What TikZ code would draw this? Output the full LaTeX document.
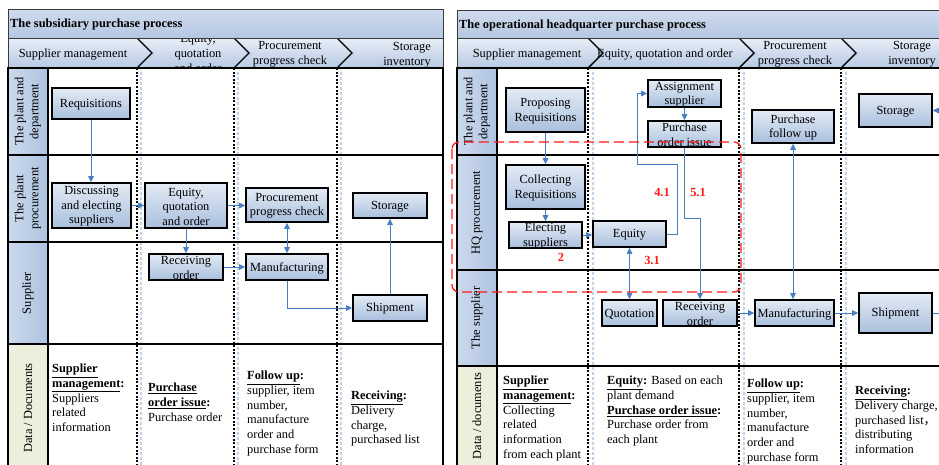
\documentclass[tikz,border=0pt]{standalone}
\usepackage{fontspec}
\setmainfont{Liberation Serif}
\newfontfamily\cjkfont{Noto Sans CJK SC}
\usetikzlibrary{arrows.meta}

\definecolor{boxtop}{HTML}{E3EBF5}
\definecolor{boxbot}{HTML}{A9BFDD}
\definecolor{flowblue}{HTML}{4A7EC2}
\definecolor{titletop}{HTML}{D0DCEE}
\definecolor{titlebot}{HTML}{B4C6E2}
\definecolor{headtop}{HTML}{E8EEF7}
\definecolor{headbot}{HTML}{B6C9E3}
\definecolor{labL}{HTML}{CCD9EC}
\definecolor{labR}{HTML}{AEC3E0}
\definecolor{docbg}{HTML}{EEEEDD}
\definecolor{shadeblue}{HTML}{C3D3E9}
\definecolor{tagred}{HTML}{FF1A1A}
\definecolor{edgegray}{HTML}{3A3A3A}

\newcommand\diagfont{\fontsize{12.4}{15}\selectfont}
\newcommand\hd[1]{\textbf{\underline{#1}}}

% process box: name, centre x, centre y, width, height, text
\newcommand\flowbox[6]{%
  \node[procbox, minimum width=#4pt, minimum height=#5pt] (#1) at (#2,#3) {};
  \node[boxtext] (#1-t) at (#1.center) {#6};
}

\begin{document}
\begin{tikzpicture}[x=1pt, y=-1pt, font=\diagfont,
  procbox/.style={draw=black, line width=1.6pt, top color=boxtop, bottom color=boxbot, inner sep=0pt},
  boxtext/.style={align=center, inner sep=0pt, yshift=-1pt, font=\fontsize{12.4}{14.5}\selectfont},
  flow/.style={draw=flowblue, line width=1pt, -{Triangle[length=6pt,width=5.5pt]}},
  flowboth/.style={draw=flowblue, line width=1pt, {Triangle[length=6pt,width=5.5pt]}-{Triangle[length=6pt,width=5.5pt]}},
  lanerule/.style={line width=1.8pt, line cap=rect},
  phase/.style={line width=1.8pt, dash pattern=on 2pt off 1.6pt},
  phaseshade/.style={draw=shadeblue, line width=1.4pt, dash pattern=on 3pt off 2pt},
  chev/.style={line width=1.4pt, miter limit=10},
  chevshade/.style={draw=shadeblue, line width=2pt},
  edge/.style={draw=edgegray, line width=0.8pt},
  lanelabel/.style={rotate=90, align=center, inner sep=0pt},
  doc/.style={anchor=north west, align=left, inner sep=0pt, font=\fontsize{12.4}{14.7}\selectfont},
  tag/.style={text=tagred, inner sep=0pt, font=\diagfont\bfseries},
  headtext/.style={inner sep=0pt, align=center}
]
\path[use as bounding box] (0,0) rectangle (939,464);
\fill[white] (0,0) rectangle (939,464);
\clip (0,0) rectangle (939,464);

% ================= subsidiary process (left panel) =================
\shade[top color=headtop, bottom color=headbot] (8,38) rectangle (443,68);
\foreach \x in {137,234,337}{
  \draw[chevshade] (\x+4,42) -- (\x+17,54) -- (\x+5,67);
  \draw[chev] (\x,38) -- (\x+15,53) -- (\x,68);
}
\node[headtext] (lH1) at (73,55) {Supplier management};
\node[headtext] (lH2) at (198,53) {Equity,\\quotation\\and order};
\node[headtext] (lH3) at (290,54) {Procurement\\progress check};
\node[headtext, align=right, anchor=east] (lH4) at (431,55) {Storage\\inventory};

\shade[top color=titletop, bottom color=titlebot] (8,9) rectangle (443,38);
\node[anchor=west, inner sep=0pt, font=\diagfont\bfseries] (lTitle) at (10,25) {The subsidiary purchase process};
\draw[edge] (8,68) -- (8,9) -- (443,9) -- (443,68) (8,38) -- (443,38);

\fill[white] (8,68) rectangle (443,470);
\shade[left color=labL, right color=labR] (8,68) rectangle (48,155);
\shade[left color=labL, right color=labR] (8,155) rectangle (48,242);
\shade[left color=labL, right color=labR] (8,242) rectangle (48,344);
\fill[docbg] (8,344) rectangle (48,470);
\foreach \x in {137,234,337}{
  \draw[phaseshade] (\x+4,72) -- (\x+4,470);
  \draw[phase] (\x,68) -- (\x,470);
}
\draw[lanerule] (8,68) -- (443,68) (8,155) -- (443,155) (8,242) -- (443,242)
  (8,344) -- (443,344) (48,68) -- (48,470) (8,68) -- (8,470) (443,68) -- (443,470);

\node[lanelabel] (lL1) at (28,111.5) {The plant and\\department};
\node[lanelabel] (lL2) at (28,198.5) {The plant\\procurement};
\node[lanelabel] (lL3) at (28,293) {Supplier};
\node[lanelabel] (lL4) at (28,408) {Data / Documents};

\flowbox{lReq}{91}{103.5}{78}{31}{Requisitions}
\flowbox{lDisc}{91.5}{205.5}{79}{45}{Discussing\\and electing\\suppliers}
\flowbox{lEq}{186}{205.5}{82}{45}{Equity,\\quotation\\and order}
\flowbox{lProc}{287}{205}{82}{34}{Procurement\\progress check}
\flowbox{lStor}{390}{205.5}{74}{25}{Storage}
\flowbox{lRecv}{186}{267}{74}{26}{Receiving\\order}
\flowbox{lManu}{287}{267}{82}{26}{Manufacturing}
\flowbox{lShip}{390}{308}{74}{26}{Shipment}

\draw[flow] (lReq.south) -- (lReq.south |- lDisc.north);
\draw[flow] (lDisc.east) -- (lEq.west);
\draw[flow] (lEq.east) -- (lEq.east -| lProc.west);
\draw[flow] (lEq.south) -- (lRecv.north);
\draw[flow] (lRecv.east) -- (lManu.west);
\draw[flowboth] (lProc.south) -- (lManu.north);
\draw[flow] (lManu.south) |- (lShip.west);
\draw[flow] (lShip.north) -- (lStor.south);

\node[doc] (lD1) at (52,364) {\hd{Supplier}\\\hd{management}\textbf{:}\\Suppliers\\related\\information};
\node[doc] (lD2) at (148,383) {\hd{Purchase}\\\hd{order issue}\textbf{:}\\Purchase order};
\node[doc] (lD3) at (247,371) {\hd{Follow up}\textbf{:}\\supplier, item\\number,\\manufacture\\order and\\purchase form};
\node[doc] (lD4) at (351,391) {\hd{Receiving}\textbf{:}\\Delivery\\charge,\\purchased list};

% ================= headquarter process (right panel) =================
\shade[top color=headtop, bottom color=headbot] (457,38) rectangle (960,68);
\foreach \x in {588,739,841}{
  \draw[chevshade] (\x+4,42) -- (\x+17,54) -- (\x+5,67);
  \draw[chev] (\x,38) -- (\x+15,53) -- (\x,68);
}
\node[headtext] (rH1) at (527,55) {Supplier management};
\node[headtext] (rH2) at (665,55) {Equity, quotation and order};
\node[headtext] (rH3) at (795,54) {Procurement\\progress check};
\node[headtext] (rH4) at (912,54) {Storage\\inventory};

\shade[top color=titletop, bottom color=titlebot] (457,10) rectangle (960,38);
\node[anchor=west, inner sep=0pt, font=\diagfont\bfseries] (rTitle) at (459,26) {The operational headquarter purchase process};
\draw[edge] (457,68) -- (457,10) -- (960,10) (457,38) -- (960,38);

\fill[white] (457,68) rectangle (960,470);
\shade[left color=labL, right color=labR] (457,68) rectangle (497,155);
\shade[left color=labL, right color=labR] (457,155) rectangle (497,270);
\shade[left color=labL, right color=labR] (457,270) rectangle (497,366);
\fill[docbg] (457,366) rectangle (497,470);
\foreach \x in {588,739,841}{
  \draw[phaseshade] (\x+5,72) -- (\x+5,470);
  \draw[phase] (\x,68) -- (\x,470);
}
\draw[lanerule] (457,68) -- (960,68) (457,155) -- (960,155) (457,270) -- (960,270)
  (457,366) -- (960,366) (497,68) -- (497,470) (457,68) -- (457,470);

\node[lanelabel] (rL1) at (477,111.5) {The plant and\\department};
\node[lanelabel] (rL2) at (477,212.5) {HQ procurement};
\node[lanelabel] (rL3) at (477,318) {The supplier};
\node[lanelabel] (rL4) at (477,416) {Data / documents};

\flowbox{rProp}{545.5}{110}{79}{44}{Proposing\\Requisitions}
\flowbox{rAssign}{684.5}{93.5}{73}{27}{Assignment\\supplier}
\flowbox{rPOI}{684.5}{134}{73}{26}{Purchase\\order issue}
\flowbox{rFollow}{793}{126.5}{82}{33}{Purchase\\follow up}
\flowbox{rStor}{895.5}{110.5}{73}{33}{Storage}
\flowbox{rColl}{545.5}{187}{79}{44}{Collecting\\Requisitions}
\flowbox{rElect}{545.5}{235}{73}{26}{Electing\\suppliers}
\flowbox{rEq}{629.5}{234}{73}{26}{Equity}
\flowbox{rQuot}{629.5}{313}{55}{26}{Quotation}
\flowbox{rRecv}{700}{313}{74}{26}{Receiving\\order}
\flowbox{rManu}{794.5}{313}{79}{26}{Manufacturing}
\flowbox{rShip}{895.5}{313}{73}{40}{Shipment}

\coordinate (loopA) at (677,164);
\coordinate (loopB) at (637,164);
\coordinate (inR) at (950,110.5);
\coordinate (outR) at (950,313);

\draw[flow] (rProp.south) -- (rColl.north);
\draw[flow] (rColl.south) -- (rElect.north);
\draw[flow] (rElect.east) -- (rElect.east -| rEq.west);
\draw[flow] (rEq.east) -| (loopA) -- (loopB) |- (rAssign.west);
\draw[flow] (rAssign.south) -- (rPOI.north);
\draw[flow] (rPOI.south) -- ++(0,71) -| (rRecv.north);
\draw[flowboth] (rEq.south) -- (rQuot.north);
\draw[flow] (rRecv.east) -- (rManu.west);
\draw[flow] (rManu.east) -- (rShip.west);
\draw[draw=flowblue, line width=1pt] (rShip.east) -- (outR);
\draw[flowboth] (rFollow.south) -- (rFollow.south |- rManu.north);
\draw[flow] (inR) -- (rStor.east);

\node[tag] (t41) at (662,192) {4.1};
\node[tag] (t51) at (698,192) {5.1};
\node[tag] (t2) at (561,257) {2};
\node[tag] (t31) at (652,260) {3.1};

\draw[tagred, line width=1.3pt, dash pattern=on 10pt off 5pt, rounded corners=7pt] (452,142) rectangle (741,292);

\node[doc] (rD1) at (503,376) {\hd{Supplier}\\\hd{management}\textbf{:}\\Collecting\\related\\information\\from each plant};
\node[doc] (rD2) at (607,376) {\hd{Equity}\textbf{:} Based on each\\plant demand\\\hd{Purchase order issue}\textbf{:}\\Purchase order from\\each plant};
\node[doc] (rD3) at (747,379) {\hd{Follow up}\textbf{:}\\supplier, item\\number,\\manufacture\\order and\\purchase form};
\node[doc] (rD4) at (855,386) {\hd{Receiving}\textbf{:}\\Delivery charge,\\purchased list{\cjkfont ，}\\distributing\\information};
\end{tikzpicture}
\end{document}
